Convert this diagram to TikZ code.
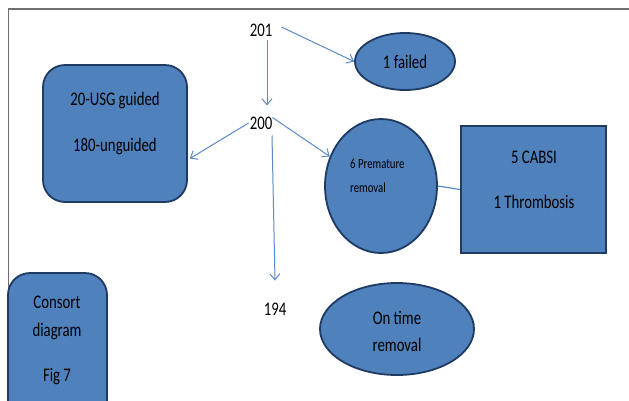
\documentclass[tikz,border=0pt]{standalone}
\usepackage{fontspec}
\setmainfont{Carlito}[FakeStretch=0.77]
\usetikzlibrary{arrows.meta,shapes.geometric}
\definecolor{boxfill}{HTML}{4F81BD}
\definecolor{boxline}{HTML}{1F3B63}
\definecolor{arrcol}{HTML}{5A8AC8}
\definecolor{framecol}{HTML}{6E6E6E}
\tikzset{
  shapebox/.style={draw=boxline, line width=1.8pt, fill=boxfill, inner sep=0pt},
  roundbox/.style={shapebox, rectangle, rounded corners=22pt},
  ovalbox/.style={shapebox, ellipse},
  sqbox/.style={shapebox, rectangle},
  numtext/.style={font=\fontsize{19.2}{22}\selectfont, inner sep=3pt, text=black},
  intext/.style={font=\fontsize{19.2}{22}\selectfont, align=center, text=black, inner sep=0pt},
  smalltext/.style={font=\fontsize{14}{16}\selectfont, align=left, text=black, inner sep=0pt},
  arr/.style={draw=arrcol, line width=1pt, -{Straight Barb[length=6pt,width=10pt,line width=1pt]}},
  plainline/.style={draw=arrcol, line width=1.2pt}
}
\begin{document}
\begin{tikzpicture}[x=1pt,y=-1pt]
\useasboundingbox (0,0) rectangle (629,400);
\clip (0,0) rectangle (629,400);
\fill[white] (0,0) rectangle (629,400);
\draw[framecol, line width=1.6pt] (8.5,440) -- (8.5,9) -- (650,9);

% shapes
\node[roundbox, minimum width=144pt, minimum height=137pt] (usg) at (115,133.5) {};
\node[intext] (usgt) at (115,123.5) {20-USG guided\\[24pt]180-unguided};

\node[ovalbox, minimum width=100pt, minimum height=57pt] (failed) at (405,61.5) {};
\node[intext] (failedt) at (405,62) {1 failed};

\node[ovalbox, minimum width=112pt, minimum height=134pt] (prem) at (381,186) {};
\node[smalltext, anchor=west] (premt) at (350,176) {6 Premature\\[8pt]removal};

\node[sqbox, minimum width=145pt, minimum height=127pt] (cabsi) at (533.5,189.5) {};
\node[intext] (cabsit) at (534,180) {5 CABSI\\[23pt]1 Thrombosis};

\node[ovalbox, minimum width=154pt, minimum height=92pt] (ontime) at (397,329) {};
\node[intext] (ontimet) at (397,331) {On time\\[5pt]removal};

\node[roundbox, minimum width=99pt, minimum height=160pt] (consort) at (57.5,353) {};
\node[intext] (consortt) at (57,340.5) {Consort\\[6pt]diagram\\[23pt]Fig 7};

% numbers
\node[numtext] (n201) at (261,30) {201};
\node[numtext] (n200) at (261,123) {200};
\node[numtext] (n194) at (275,309) {194};

% connectors
\draw[arr] ([xshift=6pt,yshift=3pt]n201.east) -- (failed.west);
\draw[arr] ([xshift=6pt,yshift=-1pt]n201.south) -- ([xshift=6pt,yshift=8pt]n200.north);
\draw[arr] ([xshift=2pt]n200.west) -- ([xshift=2pt,yshift=-25pt]usg.east);
\draw[arr] ([xshift=-3pt,yshift=-4pt]n200.north east) -- (prem.150);
\draw[arr] ([xshift=11pt,yshift=-3pt]n200.south) -- ([yshift=19pt]n194.north);
\draw[plainline] (prem.east) -- (cabsi.west);
\end{tikzpicture}
\end{document}
